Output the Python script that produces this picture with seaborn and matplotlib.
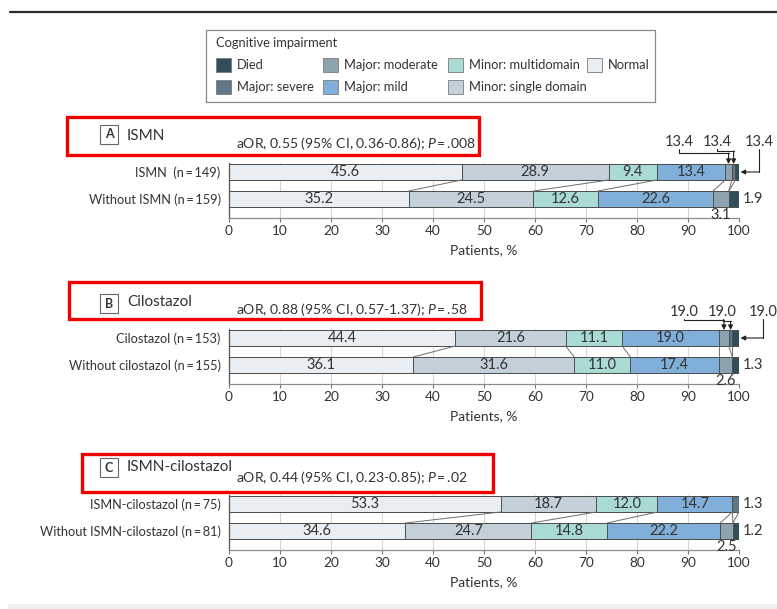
import numpy as np
import pandas as pd
import matplotlib
matplotlib.use("Agg")
import matplotlib.pyplot as plt
from matplotlib.patches import Rectangle
from matplotlib.lines import Line2D
import seaborn as sns

# ---------------------------------------------------------------- data
categories = ["Normal", "Minor: single domain", "Minor: multidomain",
              "Major: mild", "Major: moderate", "Major: severe", "Died"]

colors = {
    "Died": "#2f4d5a",
    "Major: severe": "#5f7784",
    "Major: moderate": "#8fa3ae",
    "Major: mild": "#80afda",
    "Minor: multidomain": "#a9dad3",
    "Minor: single domain": "#c4d0d9",
    "Normal": "#e9eef2",
}

panel_letters = ["A", "B", "C"]
panel_titles = ["ISMN", "Cilostazol", "ISMN-cilostazol"]
panel_stats = ["aOR, 0.55 (95% CI, 0.36-0.86); $P$\u2009=\u2009.008",
               "aOR, 0.88 (95% CI, 0.57-1.37); $P$\u2009=\u2009.58",
               "aOR, 0.44 (95% CI, 0.23-0.85); $P$\u2009=\u2009.02"]

rows_ismn = ["ISMN  (n\u2009=\u2009149)", "Without ISMN (n\u2009=\u2009159)"]
ismn_with = [45.6, 28.9, 9.4, 13.4, 1.3, 0.7, 0.7]
ismn_without = [35.2, 24.5, 12.6, 22.6, 3.1, 0.0, 1.9]

rows_cilo = ["Cilostazol (n\u2009=\u2009153)", "Without cilostazol (n\u2009=\u2009155)"]
cilo_with = [44.4, 21.6, 11.1, 19.0, 1.9, 0.7, 1.3]
cilo_without = [36.1, 31.6, 11.0, 17.4, 2.6, 0.0, 1.3]

rows_combo = ["ISMN-cilostazol (n\u2009=\u200975)", "Without ISMN-cilostazol (n\u2009=\u200981)"]
combo_with = [53.3, 18.7, 12.0, 14.7, 0.0, 1.3, 0.0]
combo_without = [34.6, 24.7, 14.8, 22.2, 2.5, 0.0, 1.2]

# callout texts printed above the first bar of panels A and B
callouts_ismn = ["13.4", "13.4", "13.4"]
callouts_cilo = ["19.0", "19.0", "19.0"]

x_ticks = list(range(0, 101, 10))

# ---------------------------------------------------------------- style
sns.set_theme(style="ticks")
plt.rcParams["font.family"] = ["Lato", "DejaVu Sans"]
plt.rcParams["mathtext.fontset"] = "custom"
plt.rcParams["mathtext.rm"] = "Lato"
plt.rcParams["mathtext.it"] = "Lato:italic"

TXT = "#333333"
EDGE = "#4d4d4d"
BAR_H = 0.59
W, H = 777, 609


def fx(px):
    return px / W


def fy(py):
    return 1 - py / H


def rect(left, top, right, bottom):
    return [fx(left), fy(bottom), (right - left) / W, (bottom - top) / H]


def box(left, top, right, bottom, **kw):
    fig.add_artist(Rectangle((fx(left), fy(bottom)), (right - left) / W, (bottom - top) / H,
                             transform=fig.transFigure, **kw))


fig = plt.figure(figsize=(W / 100, H / 100), dpi=100)

# rule under the (cropped) figure caption, and the faint page edge at the foot
fig.add_artist(Line2D([fx(10), fx(777)], [fy(12), fy(12)], color="#2b2b2b", lw=1.6))
box(8, 604, 777, 609, fc="#f0f0f0", ec="none")

# ---------------------------------------------------------------- legend
box(206, 30, 655, 102, fc="white", ec="#8a8a8a", lw=0.9)
fig.text(fx(216), fy(43), "Cognitive impairment", fontsize=9.3, color=TXT, va="center", ha="left")
legend_order = ["Died", "Major: severe", "Major: moderate", "Major: mild",
                "Minor: multidomain", "Minor: single domain", "Normal"]
col_x = [216, 323, 448, 587]
row_y = [65, 87]
for i, cat in enumerate(legend_order):
    cx = col_x[i // 2]
    cy = row_y[i % 2]
    box(cx, cy - 7, cx + 15, cy + 7, fc=colors[cat], ec="#7a7a7a", lw=0.6)
    fig.text(fx(cx + 21), fy(cy), cat, fontsize=9.3, color=TXT, va="center", ha="left")


# ---------------------------------------------------------------- panels
def stacked(ax, rows, top_vals, bottom_vals):
    frame = pd.DataFrame({
        "row": np.repeat(rows, len(categories)),
        "category": categories * 2,
        "pct": list(top_vals) + list(bottom_vals),
    })
    frame["cum"] = frame.groupby("row", sort=False)["pct"].cumsum()
    # overlay cumulative bars from the longest to the shortest
    for cat in reversed(categories):
        sub = frame[frame["category"] == cat]
        sns.barplot(data=sub, x="cum", y="row", order=rows, orient="h",
                    color=colors[cat], saturation=1, width=BAR_H,
                    edgecolor=EDGE, linewidth=0.7, errorbar=None, ax=ax)
    return frame


panel_data = [
    (rows_ismn, ismn_with, ismn_without),
    (rows_cilo, cilo_with, cilo_without),
    (rows_combo, combo_with, combo_without),
]
axes_tops = [163, 329, 495]
axes_h = 55

axes = []
for k, (rows, top_vals, bottom_vals) in enumerate(panel_data):
    top = axes_tops[k]
    ax = fig.add_axes(rect(229, top, 739, top + axes_h))
    axes.append(ax)
    stacked(ax, rows, top_vals, bottom_vals)

    ax.set_xlim(0, 100)
    ax.set_ylim(1 + 19 / 27, -9 / 27)
    ax.set_xticks(x_ticks)
    ax.set_xticklabels([str(t) for t in x_ticks])
    ax.xaxis.grid(True, color="#d6d6d6", lw=0.8)
    ax.set_axisbelow(True)
    ax.tick_params(axis="x", length=3, width=0.8, color="#777777", labelsize=9.8,
                   labelcolor=TXT, pad=2)
    ax.tick_params(axis="y", length=0, labelsize=9.2, labelcolor=TXT, pad=6)
    ax.set_xlabel("Patients, %", fontsize=10, color=TXT, labelpad=5)
    ax.set_ylabel("")
    for side in ("top", "right"):
        ax.spines[side].set_visible(False)
    ax.spines["left"].set_color("#555555")
    ax.spines["bottom"].set_color("#8c8c8c")
    ax.spines["left"].set_linewidth(0.9)
    ax.spines["bottom"].set_linewidth(0.9)

    # connectors between matching category boundaries of the two bars
    cum_top = np.cumsum(top_vals)
    cum_bot = np.cumsum(bottom_vals)
    for j in range(len(categories) - 1):
        ax.plot([cum_top[j], cum_bot[j]], [BAR_H / 2, 1 - BAR_H / 2],
                color="#6e6e6e", lw=0.7, zorder=1)

    # values printed inside the four widest segments
    for r, vals in enumerate((top_vals, bottom_vals)):
        cums = np.cumsum(vals)
        for j in range(4):
            ax.text(cums[j] - vals[j] / 2, r, f"{vals[j]:.1f}", ha="center", va="center",
                    fontsize=10.5, color=TXT, zorder=5)

# header of each panel: letter tag, title, statistics, highlight frame
headers = [
    dict(tag_top=125, title_y=136, stat_y=143, frame=(67, 117, 479, 155)),
    dict(tag_top=294, title_y=302, stat_y=309, frame=(69, 282, 481, 319)),
    dict(tag_top=458, title_y=467, stat_y=478, frame=(82, 454, 493, 492)),
]
for k, hd in enumerate(headers):
    t = hd["tag_top"]
    box(100, t, 118, t + 19, fc="white", ec="#666666", lw=0.8)
    fig.text(fx(109), fy(t + 9.5), panel_letters[k], fontsize=9, fontweight="bold",
             color=TXT, ha="center", va="center")
    fig.text(fx(127), fy(hd["title_y"]), panel_titles[k], fontsize=11, color=TXT,
             ha="left", va="center")
    fig.text(fx(236), fy(hd["stat_y"]), panel_stats[k], fontsize=10.1, color=TXT,
             ha="left", va="center")
    l, tp, r, b = hd["frame"]
    box(l, tp, r, b, fc="none", ec="#f00000", lw=2.4)


# ---------------------------------------------------------------- outside labels
def right_label(ax, row, value):
    ax.text(100.8, row, f"{value:.1f}", ha="left", va="center", fontsize=10.5,
            color=TXT, clip_on=False)


def below_label(ax, vals, j):
    cums = np.cumsum(vals)
    ax.text(cums[j] - vals[j] / 2, 1 + BAR_H / 2 + 0.02, f"{vals[j]:.1f}", ha="center",
            va="top", fontsize=10.5, color=TXT, clip_on=False, zorder=6)


def callouts(ax, vals, texts, label_x, label_y, elbows):
    cums = np.cumsum(vals)
    centers = cums - np.array(vals) / 2
    lk = dict(color="#222222", lw=0.8, clip_on=False, zorder=6)
    ak = dict(arrowstyle="-|>", mutation_scale=7, lw=0.8, color="#222222",
              shrinkA=0, shrinkB=0)
    stub = label_y + 0.25
    for i, j in enumerate((4, 5)):
        ax.text(label_x[i], label_y, texts[i], ha="center", va="center", fontsize=10.5,
                color=TXT, clip_on=False)
        ax.plot([label_x[i], label_x[i], centers[j]], [stub, elbows[i], elbows[i]], **lk)
        ax.annotate("", xy=(centers[j], -BAR_H / 2), xytext=(centers[j], elbows[i]),
                    arrowprops=ak, annotation_clip=False)
    ax.text(label_x[2], label_y, texts[2], ha="center", va="center", fontsize=10.5,
            color=TXT, clip_on=False)
    ax.plot([label_x[2], label_x[2]], [stub, 0], **lk)
    ax.annotate("", xy=(cums[6] + 0.3, 0), xytext=(label_x[2], 0),
                arrowprops=ak, annotation_clip=False)


ax_a, ax_b, ax_c = axes
callouts(ax_a, ismn_with, callouts_ismn, [88.2, 95.7, 103.9], -1.11, [-0.70, -0.78])
below_label(ax_a, ismn_without, 4)
right_label(ax_a, 1, ismn_without[6])

callouts(ax_b, cilo_with, callouts_cilo, [89.2, 96.8, 104.8], -0.96, [-0.67, -0.62])
below_label(ax_b, cilo_without, 4)
right_label(ax_b, 1, cilo_without[6])

right_label(ax_c, 0, combo_with[5])
below_label(ax_c, combo_without, 4)
right_label(ax_c, 1, combo_without[6])

fig.savefig("out.png", dpi=100)
